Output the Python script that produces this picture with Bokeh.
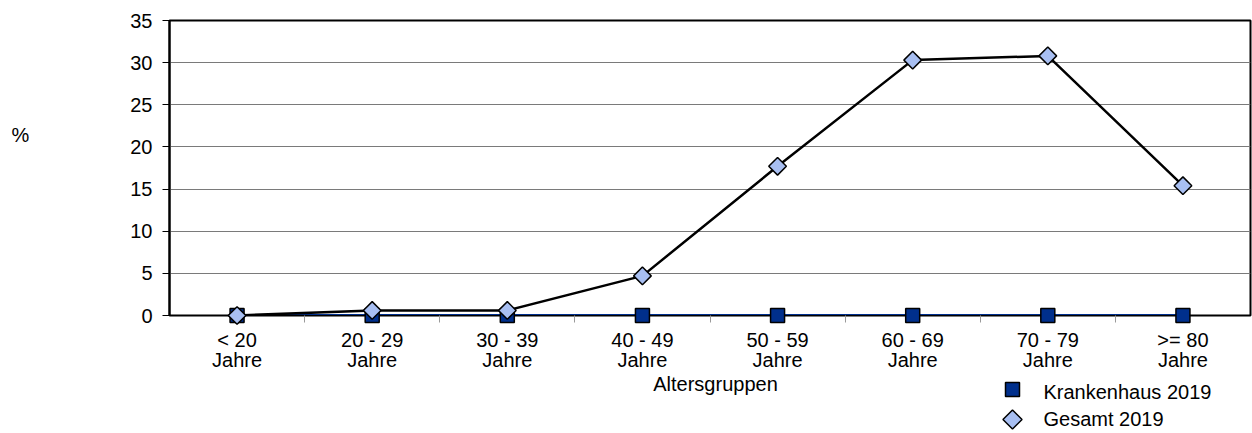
import math
from bokeh.plotting import figure
from bokeh.layouts import column
from bokeh.models import Range1d, FixedTicker
from bokeh.core.properties import value
from bokeh.embed import file_html
from bokeh.resources import INLINE

categories = ["< 20\nJahre", "20 - 29\nJahre", "30 - 39\nJahre", "40 - 49\nJahre",
              "50 - 59\nJahre", "60 - 69\nJahre", "70 - 79\nJahre", ">= 80\nJahre"]
krankenhaus_2019 = [0, 0, 0, 0, 0, 0, 0, 0]
gesamt_2019 = [0.0, 0.6, 0.6, 4.7, 17.7, 30.3, 30.8, 15.4]
series_names = ["Krankenhaus 2019", "Gesamt 2019"]
y_ticks = [0, 5, 10, 15, 20, 25, 30, 35]
x_title = "Altersgruppen"
y_title = "%"

FONT = "Liberation Sans"
FS = "20px"
NAVY = "#002F8C"
LIGHT = "#A8BFF2"

n = len(categories)
xs = [i + 0.5 for i in range(n)]

H1 = 374
p = figure(width=1252, height=H1, output_backend="svg", toolbar_location=None,
           x_range=Range1d(0, n), y_range=Range1d(0, 35),
           min_border_left=169, min_border_right=2, min_border_top=20, min_border_bottom=59)
p.background_fill_color = "white"
p.border_fill_color = "white"
p.outline_line_color = "black"
p.outline_line_width = 2

# y axis
p.yaxis.ticker = FixedTicker(ticks=y_ticks)
p.yaxis.axis_line_color = "black"
p.yaxis.axis_line_width = 2
p.yaxis.major_tick_line_color = "black"
p.yaxis.major_tick_out = 7
p.yaxis.major_tick_in = 0
p.yaxis.minor_tick_line_color = None
p.yaxis.major_label_text_font = FONT
p.yaxis.major_label_text_font_size = FS
p.yaxis.major_label_text_color = "black"
p.yaxis.major_label_standoff = 10
p.yaxis.axis_label = y_title + "\n \n \n "
p.yaxis.axis_label_orientation = "horizontal"
p.yaxis.axis_label_text_font = FONT
p.yaxis.axis_label_text_font_size = FS
p.yaxis.axis_label_text_line_height = 1.0
p.yaxis.axis_label_text_font_style = "normal"
p.yaxis.axis_label_text_color = "black"
p.yaxis.axis_label_standoff = 98
p.ygrid.grid_line_color = "#7a7a7a"
p.ygrid.grid_line_width = 1

# x axis
p.xaxis.ticker = FixedTicker(ticks=xs, minor_ticks=list(range(1, n)))
p.xaxis.major_label_overrides = {x: c for x, c in zip(xs, categories)}
p.xaxis.major_tick_line_color = None
p.xaxis.major_tick_out = 0
p.xaxis.major_tick_in = 0
p.xaxis.minor_tick_line_color = "#9a9a9a"
p.xaxis.minor_tick_out = 7
p.xaxis.minor_tick_in = 0
p.xaxis.axis_line_color = "black"
p.xaxis.major_label_text_font = FONT
p.xaxis.major_label_text_font_size = FS
p.xaxis.major_label_text_line_height = 0.95
p.xaxis.major_label_text_color = "black"
p.xaxis.major_label_standoff = 6
p.xgrid.grid_line_color = None

# series
p.line(xs, krankenhaus_2019, line_color=NAVY, line_width=3)
r_k = p.scatter(xs, krankenhaus_2019, marker="square", size=14, fill_color=NAVY,
                line_color="black", line_width=1.5)
p.line(xs, gesamt_2019, line_color="black", line_width=2.5)
r_g = p.scatter(xs, gesamt_2019, marker="square", angle=math.pi / 4, size=12.5,
                fill_color=LIGHT, line_color="black", line_width=1.5)
r_k.level = "overlay"
r_g.level = "overlay"

# bottom strip under the plot frame: axis title and legend (pixel coordinates)
H2 = 433 - H1
q = figure(width=1252, height=H2, output_backend="svg", toolbar_location=None,
           x_range=Range1d(169, 1250), y_range=Range1d(H1 + H2, H1),
           min_border_left=169, min_border_right=2, min_border_top=0, min_border_bottom=0)
q.axis.visible = False
q.grid.grid_line_color = None
q.outline_line_color = None
q.background_fill_color = "white"
q.border_fill_color = "white"

q.text(x=[715], y=[383], text=[x_title], text_font=value(FONT), text_font_size=value(FS),
       text_align="center", text_baseline="middle", text_color="black")

q.scatter(x=[1012, 1012], y=[389, 419], marker="square", angle=[0, -math.pi / 4],
          size=[14, 13.5], fill_color=[NAVY, LIGHT], line_color="black", line_width=1.5)
q.text(x=[1043, 1043], y=[391, 418], text=series_names, text_font=value(FONT),
       text_font_size=value(FS), text_align="left", text_baseline="middle", text_color="black")

layout = column(p, q, spacing=0)
open("out.html", "w").write(file_html(layout, INLINE))
